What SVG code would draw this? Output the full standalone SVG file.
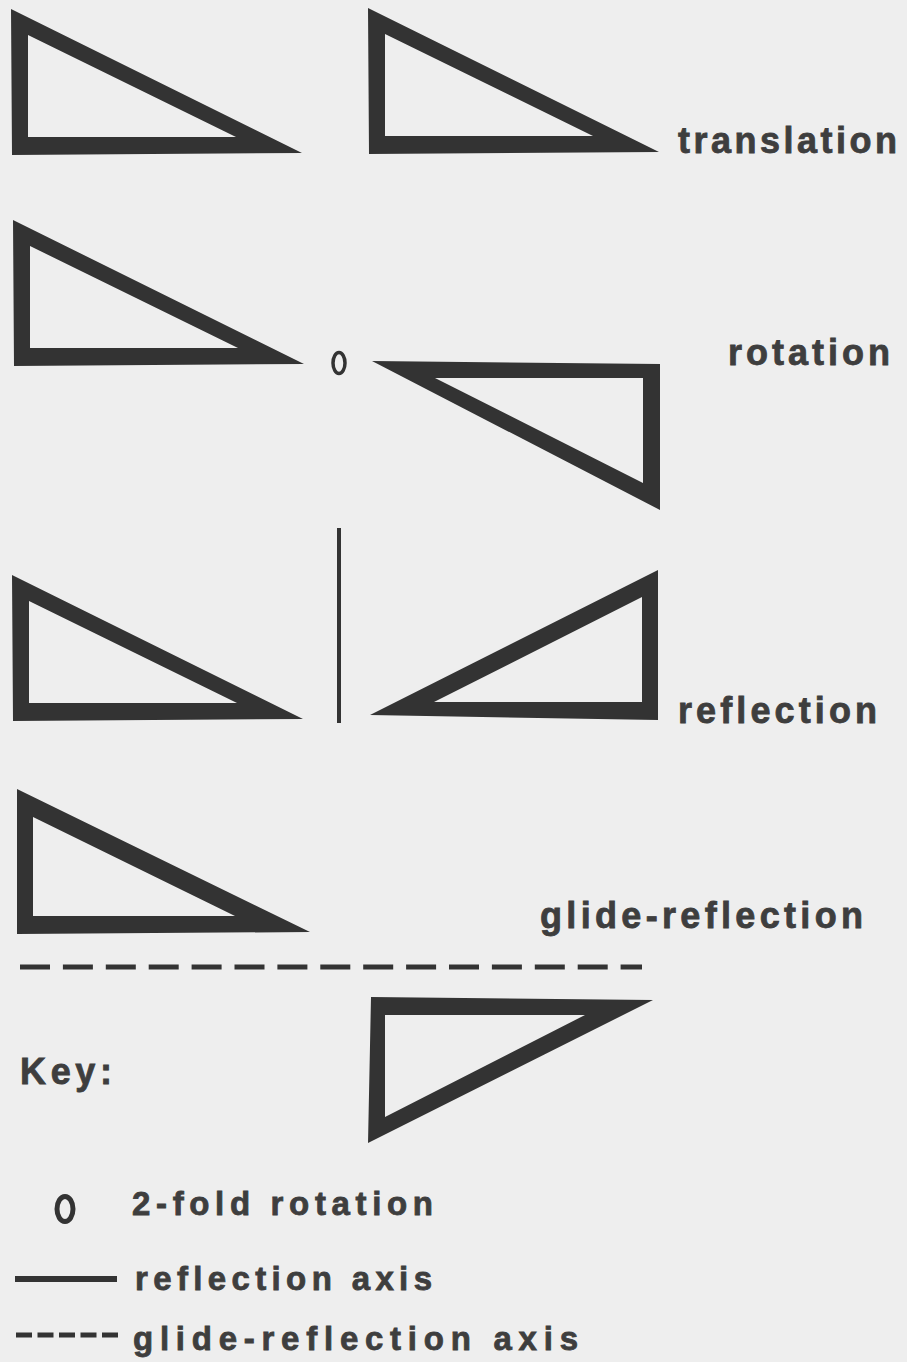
<svg xmlns="http://www.w3.org/2000/svg" width="907" height="1362" viewBox="0 0 907 1362">
<style>
.tri{fill:#333333;fill-rule:evenodd}
.lbl{font-family:"Liberation Sans",Arial,sans-serif;font-weight:bold;font-size:36px;fill:#3e3e3e;stroke:#3e3e3e;stroke-width:0.8}
.key{font-family:"Liberation Sans",Arial,sans-serif;font-weight:bold;font-size:33px;fill:#3e3e3e;stroke:#3e3e3e;stroke-width:0.8}
.ax{stroke:#333333;fill:none}
</style>
<defs>
<path id="tL" d="M11,9 L12,155 L302,153 Z M28,35 L28,137 L236,137 Z"/>
</defs>
<rect width="907" height="1362" fill="#eeeeee"/>
<g id="translation">
<use href="#tL" class="tri"/>
<use href="#tL" class="tri" transform="translate(357,-1)"/>
<text class="lbl" x="678" y="153" textLength="219" lengthAdjust="spacing">translation</text>
</g>
<g id="rotation">
<use href="#tL" class="tri" transform="translate(2,211)"/>
<ellipse cx="339" cy="363" rx="6" ry="10.5" class="ax" stroke-width="3.5"/>
<path class="tri" d="M372,361 L660,364 L660,510 Z M435,378 L643,378 L643,483 Z"/>
<text class="lbl" x="728" y="365" textLength="162" lengthAdjust="spacing">rotation</text>
</g>
<g id="reflection">
<use href="#tL" class="tri" transform="translate(1,566)"/>
<line x1="339" y1="528" x2="339" y2="723" class="ax" stroke-width="4"/>
<path class="tri" d="M370,715 L658,570 L658,720 Z M434,702 L642,597 L642,702 Z"/>
<text class="lbl" x="678" y="723" textLength="199" lengthAdjust="spacing">reflection</text>
</g>
<g id="glide-reflection">
<path class="tri" d="M17,789 L17,934 L310,932 Z M33,817 L33,916 L235,916 Z"/>
<line x1="20" y1="967" x2="642" y2="967" class="ax" stroke-width="5" stroke-dasharray="30,12.9"/>
<path class="tri" d="M371,997 L653,1000 L368,1143 Z M385,1015 L585,1015 L385,1117 Z"/>
<text class="lbl" x="540" y="928" textLength="323" lengthAdjust="spacing">glide-reflection</text>
</g>
<g id="key">
<text class="lbl" x="20" y="1084" textLength="92" lengthAdjust="spacing">Key:</text>
<ellipse cx="65" cy="1209" rx="8" ry="12.5" class="ax" stroke-width="5"/>
<text class="key" x="132" y="1215" textLength="301" lengthAdjust="spacing">2-fold rotation</text>
<line x1="15" y1="1279" x2="117" y2="1279" class="ax" stroke-width="6"/>
<text class="key" x="135" y="1290" textLength="297" lengthAdjust="spacing">reflection axis</text>
<line x1="16" y1="1335" x2="118" y2="1335" class="ax" stroke-width="5" stroke-dasharray="16,5.5"/>
<text class="key" x="133" y="1350" textLength="445" lengthAdjust="spacing">glide-reflection axis</text>
</g>
</svg>
